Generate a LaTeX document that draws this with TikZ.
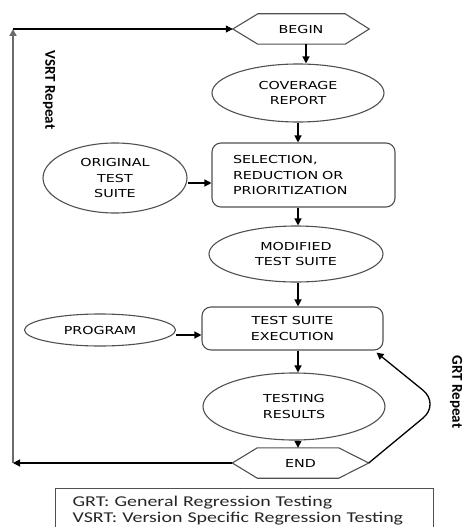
\documentclass[tikz,border=0pt]{standalone}
\usepackage{fontspec}
\usetikzlibrary{shapes.geometric,arrows.meta}
\newfontfamily\boxfont[FakeStretch=1.3]{DejaVu Sans}
\newfontfamily\legfont[FakeStretch=1.33]{Carlito}
\newfontfamily\tagfont{Carlito}
\definecolor{edge}{HTML}{505050}
\definecolor{loopgray}{HTML}{6A6A6A}
\begin{document}
\begin{tikzpicture}[x=1pt,y=-1pt,
  boxtext/.style={font=\boxfont\fontsize{11}{15.5}\selectfont, text=black},
  oval/.style={ellipse, draw=edge, line width=1.1pt, inner sep=0pt, align=center, boxtext},
  rbox/.style={rectangle, rounded corners=9pt, draw=edge, line width=1.1pt, align=center, boxtext},
  hexnode/.style={minimum width=136pt, minimum height=30pt, inner sep=0pt, boxtext},
  hexline/.style={draw=edge, line width=1.1pt},
  arr/.style={-{Triangle[length=7pt,width=7pt]}, line width=1.3pt, black},
  tag/.style={font=\tagfont\bfseries\fontsize{15}{18}\selectfont, text=black, inner sep=0pt},
  legend/.style={draw=edge, line width=1.1pt, align=left, inner xsep=17pt, inner ysep=8pt,
    text width=344pt, font=\legfont\fontsize{15}{16}\selectfont, text=black!85}]
\useasboundingbox (0,0) rectangle (466,527);
\clip (0,0) rectangle (466,527);

% start / end terminals (hexagons drawn around plain nodes)
\node[hexnode] (begin) at (301,29) {BEGIN};
\draw[hexline] (begin.west) -- ([xshift=25pt]begin.north west) -- ([xshift=-24pt]begin.north east)
  -- (begin.east) -- ([xshift=-24pt]begin.south east) -- ([xshift=25pt]begin.south west) -- cycle;
\node[hexnode] (end) at (300.5,463) {END};
\draw[hexline] (end.west) -- ([xshift=25pt]end.north west) -- ([xshift=-30pt]end.north east)
  -- (end.east) -- ([xshift=-30pt]end.south east) -- ([xshift=25pt]end.south west) -- cycle;

% process steps
\node[oval, minimum width=172pt, minimum height=58pt] (cov) at (298,93) {COVERAGE\\REPORT};
\node[rbox, text width=141pt, inner xsep=21pt, minimum height=64pt, align=left] (sel) at (303.5,175)
  {SELECTION,\\REDUCTION OR\\PRIORITIZATION};
\node[oval, minimum width=144pt, minimum height=70pt] (orig) at (115,178) {ORIGINAL\\TEST\\SUITE};
\node[oval, minimum width=174pt, minimum height=56pt] (mod) at (296,254) {MODIFIED\\TEST SUITE};
\node[rbox, minimum width=181pt, minimum height=43pt] (exec) at (292.5,328.5) {TEST SUITE\\EXECUTION};
\node[oval, minimum width=151pt, minimum height=32pt] (prog) at (100,330) {PROGRAM};
\node[oval, minimum width=182pt, minimum height=67pt] (res) at (294,406.5) {TESTING\\RESULTS};

% main flow
\draw[arr] ([xshift=5pt]begin.south) -- ([xshift=5pt]begin.south |- cov.north);
\draw[arr] (cov.south) -- (sel.north -| cov.south);
\draw[arr] ([yshift=-5pt]orig.east) -- ([yshift=-5pt]orig.east -| sel.west);
\draw[arr] (sel.south -| cov.south) -- (mod.north -| cov.south);
\draw[arr] (mod.south -| cov.south) -- (exec.north -| cov.south);
\draw[arr] ([yshift=-5pt]prog.east) -- ([yshift=-5pt]prog.east -| exec.west);
\draw[arr] (exec.south -| cov.south) -- (res.north -| cov.south);
\draw[arr] (res.south -| cov.south) -- (end.north -| cov.south);

% version specific repeat loop
\coordinate (vx) at (13,0);
\draw[arr, line width=1.1pt] (end.west) -- (vx |- end.west);
\draw[arr, draw=loopgray, line width=1.8pt] (vx |- end.west) -- (vx |- begin.west);
\draw[arr, line width=1.1pt] (vx |- begin.west) -- (begin.west);
\node[tag, rotate=-90] (vsrt) at (49,90) {VSRT Repeat};

% general repeat loop
\coordinate (grtbend) at (440,404);
\draw[arr, rounded corners=22pt] (end.east) -- (grtbend) -- ([shift={(-7,2)}]exec.south east);
\node[tag, rotate=-90] (grt) at (456,392) {GRT Repeat};

% legend
\node[legend, anchor=north west] (leg) at (55,488)
  {GRT: General Regression Testing\\VSRT: Version Specific Regression Testing};
\end{tikzpicture}
\end{document}
